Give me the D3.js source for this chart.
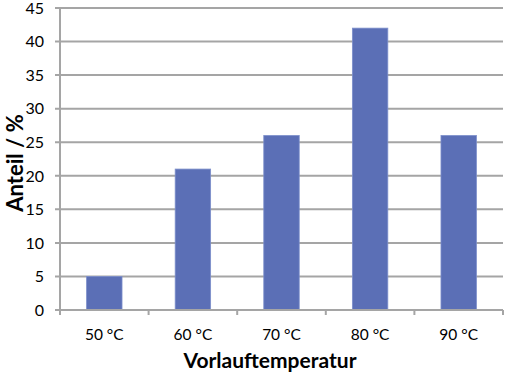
<!DOCTYPE html>
<html>
    <head>
        <meta charset="UTF-8"/>
        <style>
            body { margin: 0; background: #fff; }
            text { font-family: Lato, "Open Sans", sans-serif; }
        </style>
    </head>
    <body>
        <script src="https://d3js.org/d3.v7.min.js" type="text/javascript"></script>
        <script>
        let width = 506;
        let height = 376;
        let categories = ["50 °C", "60 °C", "70 °C", "80 °C", "90 °C"];
        let values = [5, 21, 26, 42, 26];
        let yTicks = [0, 5, 10, 15, 20, 25, 30, 35, 40, 45];

        let margin = {top: 8, right: 3, bottom: 66, left: 60};
        let plotW = width - margin.left - margin.right;
        let plotH = height - margin.top - margin.bottom;

        let svg = d3.select("body")
            .append("svg")
            .attr("width", width)
            .attr("height", height);
        let g = svg.append("g")
            .attr("transform", "translate(" + margin.left + "," + margin.top + ")");

        let x = d3.scaleBand().domain(categories).range([0, plotW]).padding(0);
        let y = d3.scaleLinear().domain([0, 45]).range([plotH, 0]);

        // gridlines
        g.selectAll("line.grid")
            .data(yTicks)
            .enter()
            .append("line")
            .attr("class", "grid")
            .attr("x1", -5)
            .attr("x2", plotW)
            .attr("y1", function(d) { return y(d); })
            .attr("y2", function(d) { return y(d); })
            .attr("stroke", "#a5a5a5")
            .attr("stroke-width", 2);

        // y labels
        g.selectAll("text.ylab")
            .data(yTicks)
            .enter()
            .append("text")
            .attr("class", "ylab")
            .attr("x", -16)
            .attr("y", function(d) { return y(d); })
            .attr("dy", "0.36em")
            .attr("text-anchor", "end")
            .attr("font-size", "16px")
            .attr("fill", "#000")
            .text(function(d) { return d; });

        // bars
        g.selectAll("rect")
            .data(values)
            .enter()
            .append("rect")
            .attr("x", function(d, i) { return x(categories[i]) + x.bandwidth() * 0.3; })
            .attr("width", x.bandwidth() * 0.4)
            .attr("y", function(d) { return y(d); })
            .attr("height", function(d) { return plotH - y(d); })
            .attr("fill", "#5b6fb6")
            .attr("stroke", "#7d8fcb")
            .attr("stroke-width", 0.8);

        // axes lines
        g.append("line")
            .attr("x1", 0).attr("x2", 0)
            .attr("y1", 0).attr("y2", plotH + 5)
            .attr("stroke", "#a5a5a5").attr("stroke-width", 2);
        g.append("line")
            .attr("x1", -5).attr("x2", plotW)
            .attr("y1", plotH).attr("y2", plotH)
            .attr("stroke", "#a5a5a5").attr("stroke-width", 2);

        // x ticks at band boundaries
        let bounds = categories.map(function(c) { return x(c) + x.bandwidth(); });
        g.selectAll("line.xtick")
            .data(bounds)
            .enter()
            .append("line")
            .attr("x1", function(d) { return d; })
            .attr("x2", function(d) { return d; })
            .attr("y1", plotH)
            .attr("y2", plotH + 5)
            .attr("stroke", "#a5a5a5").attr("stroke-width", 2);

        g.selectAll("text.xlab")
            .data(categories)
            .enter()
            .append("text")
            .attr("class", "xlab")
            .attr("x", function(d) { return x(d) + x.bandwidth() / 2; })
            .attr("y", plotH + 30)
            .attr("text-anchor", "middle")
            .attr("font-size", "15.5px")
            .attr("fill", "#000")
            .text(function(d) { return d; });

        // axis titles
        svg.append("text")
            .attr("x", 270)
            .attr("y", 368)
            .attr("text-anchor", "middle")
            .attr("font-size", "21px")
            .attr("font-weight", "bold")
            .text("Vorlauftemperatur");

        svg.append("text")
            .attr("transform", "translate(23,163)rotate(-90)")
            .attr("text-anchor", "middle")
            .attr("font-size", "22px")
            .attr("font-weight", "bold")
            .text("Anteil / %");
        </script>
    </body>
</html>
